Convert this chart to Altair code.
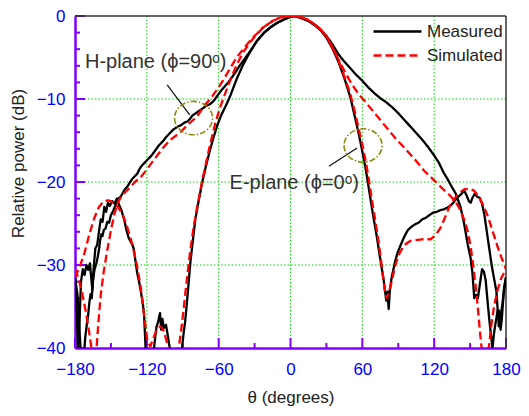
import altair as alt
import pandas as pd

# ---------------- data ----------------
x_major = [-180, -120, -60, 0, 60, 120, 180]
x_minor = [-150, -90, -30, 30, 90, 150]
y_major = [0, -10, -20, -30, -40]
y_minor = [-2, -4, -6, -8, -12, -14, -16, -18, -22, -24, -26, -28, -32, -34, -36, -38]
x_grid = [-120, -60, 0, 60, 120]
y_grid = [-10, -20, -30]

e_sim_theta = [-180, -176, -172, -168, -164, -160, -156, -152, -148, -144, -140, -136, -132, -128, -125, -122,
               -119.5, -117, -114, -111, -108.5, -106, -103, -100, -97.5, -95, -93, -91, -89, -87, -85, -83,
               -81, -78, -75, -71, -67, -63, -59, -55, -50, -45, -40, -35, -30, -23, -15, -8, 0, 5, 10, 15, 20,
               25, 30, 35, 40, 45, 50, 54, 57, 60, 63, 66, 68, 71, 74, 77, 79, 80.5, 82, 84, 86, 88, 91, 95,
               100, 110, 117, 121, 125, 129, 133, 137, 141, 145, 149, 153, 157, 161, 165, 169, 173, 177, 180]
e_sim_db = [-31.5, -30.2, -28.5, -26.3, -24.4, -23.0, -22.3, -22.2, -22.5, -23.0, -24.0, -25.6, -27.6, -30.2,
            -32.8, -36.4, -39.2, -39.8, -38.6, -37.6, -37.4, -37.9, -39.4, -41.0, -41.7, -41.0, -39.6, -37.5,
            -35.0, -32.3, -29.8, -27.5, -25.5, -23.0, -20.8, -18.0, -15.4, -13.0, -11.1, -9.5, -7.6, -5.9,
            -4.5, -3.4, -2.5, -1.4, -0.6, -0.15, 0.0, -0.05, -0.2, -0.5, -1.0, -1.6, -2.5, -3.7, -5.3, -7.3,
            -9.4, -11.7, -13.6, -15.5, -17.6, -20.2, -22.2, -24.8, -27.6, -31.0, -33.4, -34.0, -33.4, -32.3,
            -31.0, -29.8, -28.6, -27.6, -27.1, -26.9, -26.9, -26.4, -25.6, -24.3, -22.9, -22.0, -21.3, -20.9,
            -20.8, -21.0, -21.7, -22.8, -24.2, -26.0, -27.8, -29.4, -30.5]

h_sim_theta = [-180, -177, -174, -171, -168.5, -166, -164, -162, -160.5, -158.5, -156, -153.5, -150, -147,
               -144, -140, -135, -130, -125, -120, -114, -106, -100, -92, -85, -78, -72, -67, -62, -56, -50,
               -45, -40, -35, -30, -23, -15, -8, 0, 5, 10, 15, 20, 25, 30, 35, 40, 46, 52, 58, 64, 72, 80, 88,
               96, 104, 112, 120, 127, 133, 138, 142, 145, 148, 150.5, 153, 155, 157, 159, 161, 163.5, 166,
               168, 170, 173, 176, 180]
h_sim_db = [-30.5, -31.6, -33.4, -35.6, -37.8, -40.2, -41.5, -40.0, -37.0, -33.6, -30.8, -28.6, -25.8, -23.8,
            -22.4, -21.5, -20.8, -20.0, -19.4, -18.5, -17.3, -15.8, -14.9, -14.0, -13.0, -12.1, -10.8, -10.0,
            -9.0, -7.7, -6.2, -5.0, -4.1, -3.2, -2.4, -1.4, -0.6, -0.15, 0.0, -0.05, -0.2, -0.5, -1.0, -1.6,
            -2.4, -3.8, -5.2, -6.9, -8.4, -9.6, -10.6, -12.0, -13.4, -14.8, -16.0, -17.3, -18.7, -19.8, -20.8,
            -21.6, -22.4, -23.4, -24.5, -25.9, -27.8, -30.5, -33.0, -36.0, -39.2, -41.5, -42.0, -39.5, -37.0,
            -35.0, -33.0, -31.6, -30.5]

e_meas_theta = [-180, -179, -178, -177.5, -176, -175, -173.5, -172, -170.5, -169, -167.5, -166.5, -165.5,
                -164.5, -163, -161.5, -160, -158.5, -157, -155.5, -154, -152.5, -151, -149, -147, -145, -143,
                -141, -139, -137, -135, -133, -131, -129.5, -128, -126.5, -125, -123.5, -122.3, -121.5, -120.5,
                -117, -114, -112, -110.5, -109, -108, -107, -105.8, -104, -102.5, -100.3, -98, -94, -91, -89.5,
                -88, -86.5, -85, -83.5, -81.5, -79.5, -77, -74, -70.5, -67, -64, -61, -58, -56, -53, -50, -45,
                -40, -36, -32, -28, -22, -17, -12, -6, 0, 3, 6, 10, 15, 20, 25, 30, 35, 40, 45, 50, 54, 57, 60,
                63, 66, 69, 72, 75, 78, 80, 81, 82, 83, 84.5, 86, 87.5, 89.5, 92, 95, 98, 101, 104, 107, 110,
                113, 116, 119, 122, 125, 128, 131, 134, 137, 140, 143, 145, 147, 149, 150.5, 152, 154, 156, 158,
                160, 162, 164, 166, 168, 170, 172, 173, 174, 175.5, 177, 178.5, 180]
e_meas_db = [-31.5, -33.5, -38.0, -41.0, -36.0, -32.0, -30.5, -31.2, -30.0, -30.6, -29.8, -31.5, -33.0, -30.5,
             -28.0, -27.6, -26.0, -24.5, -24.8, -23.0, -23.6, -22.5, -22.9, -22.3, -22.6, -22.0, -22.8, -23.5,
             -24.5, -25.8, -26.8, -27.3, -28.0, -29.5, -31.0, -32.0, -33.2, -34.5, -36.0, -38.5, -42.0, -44.0,
             -40.0, -37.5, -36.8, -35.8, -37.8, -36.5, -37.6, -37.2, -38.5, -40.5, -44.0, -44.0, -40.5, -38.5,
             -36.8, -34.5, -32.0, -29.5, -27.0, -24.5, -22.5, -20.2, -18.0, -16.0, -14.5, -13.1, -12.0, -11.4,
             -10.5, -9.5, -7.6, -6.0, -4.9, -3.9, -3.0, -2.0, -1.4, -0.9, -0.45, -0.1, 0.0, -0.1, -0.3, -0.6,
             -1.1, -1.7, -2.6, -3.9, -5.5, -7.5, -9.8, -12.3, -14.2, -16.3, -18.6, -21.3, -24.0, -26.5, -29.3,
             -32.0, -34.3, -33.2, -35.3, -33.0, -31.5, -30.5, -29.5, -28.5, -27.6, -26.6, -25.8, -25.4, -25.1,
             -24.9, -24.5, -24.3, -24.0, -23.7, -23.6, -23.4, -23.3, -23.1, -22.8, -22.3, -21.8, -21.4, -21.0,
             -21.6, -22.3, -22.5, -21.9, -21.4, -21.8, -21.9, -22.6, -24.0, -26.0, -28.0, -30.0, -31.6, -33.2,
             -35.3, -37.4, -36.0, -34.8, -32.6, -31.5]

h_meas_theta = [-180, -179, -178, -177, -176, -175, -174, -172.5, -171.5, -170, -169, -168, -167, -166, -165,
                -164, -163, -162, -161, -160, -159, -158, -157, -156, -154.5, -153, -151.5, -150, -148.5, -147,
                -145.5, -144, -142, -140, -138.5, -136, -134, -132, -130, -128, -126, -124, -122, -120, -118,
                -116, -114, -112, -110, -108, -106, -104, -102, -100, -98, -96, -94, -92, -90, -88, -86, -84,
                -82, -80, -78, -76, -74, -72, -70, -67, -64, -61, -58, -55, -52, -49, -46, -43, -40, -36, -32,
                -28, -22, -17, -12, -6, 0, 3, 6, 10, 15, 20, 25, 30, 35, 40, 45, 50, 55, 60, 65, 70, 75, 80,
                85, 90, 95, 100, 105, 110, 115, 120, 124, 128, 131, 134, 138, 142, 145, 148, 150.5, 152, 153.5,
                155, 156.5, 158, 160, 161.5, 163, 164.5, 166, 167.5, 168.7, 170, 171.5, 173, 174.2, 175.5,
                176.5, 178, 179, 180]
h_meas_db = [-31.5, -32.5, -33.5, -35.5, -38.5, -41.0, -44.0, -41.0, -38.8, -37.0, -36.0, -34.5, -33.5, -34.0,
             -32.0, -30.8, -30.2, -29.7, -29.0, -28.2, -27.0, -26.3, -26.5, -25.8, -25.6, -24.8, -24.9, -24.0,
             -23.6, -23.1, -22.6, -22.0, -21.8, -21.3, -20.9, -20.5, -20.0, -19.6, -19.3, -19.0, -18.4, -18.0,
             -17.7, -17.4, -17.1, -16.8, -16.4, -16.0, -15.6, -15.3, -15.0, -14.6, -14.3, -14.0, -13.7, -13.5,
             -13.3, -13.2, -13.0, -12.8, -12.7, -12.4, -12.0, -11.8, -11.6, -11.4, -11.2, -11.0, -10.8, -10.6,
             -10.2, -9.6, -9.0, -8.5, -8.0, -7.4, -6.8, -6.1, -5.5, -4.7, -3.9, -3.0, -2.0, -1.4, -0.9, -0.45,
             -0.1, 0.0, -0.1, -0.3, -0.6, -1.0, -1.6, -2.4, -3.4, -4.6, -5.5, -6.3, -7.1, -7.8, -8.6, -9.3,
             -9.9, -10.4, -11.0, -11.7, -12.5, -13.3, -14.1, -14.9, -15.8, -16.8, -17.7, -18.9, -19.6, -20.4,
             -21.4, -23.0, -25.0, -27.5, -29.2, -31.0, -34.0, -33.6, -34.0, -32.5, -30.5, -30.8, -31.8, -34.2,
             -36.5, -38.5, -40.0, -38.2, -36.8, -35.5, -35.5, -37.8, -36.5, -33.5, -32.5, -31.5]

series_names = ["Measured", "Simulated"]
series_colors = ["#000000", "#ff0000"]

ann_text = ["H-plane (\u03d5=90\u1d52)", "E-plane (\u03d5=0\u1d52)"]
ann_theta = [-171.7, -50.9]
ann_db = [-5.5, -20.1]

circle_theta = [-81.0, 60.6]
circle_db = [-12.3, -15.6]

leader_theta1 = [-103.0, 32.1]
leader_db1 = [-8.3, -18.1]
leader_theta2 = [-84.2, 55.6]
leader_db2 = [-11.9, -15.9]

# ---------------- build tables ----------------
rows = []
for s, p, th, db in [("Measured", "E", e_meas_theta, e_meas_db),
                     ("Measured", "H", h_meas_theta, h_meas_db),
                     ("Simulated", "E", e_sim_theta, e_sim_db),
                     ("Simulated", "H", h_sim_theta, h_sim_db)]:
    for t, d in zip(th, db):
        rows.append({"theta": t, "db": d, "series": s, "plane": p})
curves = pd.DataFrame(rows)

W, H = 431, 332
FONT = "Liberation Sans, Arial, sans-serif"
PURPLE = "#8000ff"

xs = alt.Scale(domain=[-180, 180], nice=False, zero=False)
ys = alt.Scale(domain=[-40, 0], nice=False, zero=False)

x_axis = alt.Axis(values=x_major, title="\u03b8 (degrees)", labelFontSize=17, labelColor="#0000ff",
                  labelFont=FONT, labelPadding=13, ticks=False, tickSize=0, domainColor=PURPLE,
                  domainWidth=2.5, grid=False, titleFont=FONT, titleFontSize=17, titleFontWeight="normal",
                  titleColor="#222222", titlePadding=12, labelFlush=False)
y_axis = alt.Axis(values=y_major, title="Relative power (dB)", labelFontSize=17, labelColor="#0000ff",
                  labelFont=FONT, labelPadding=10, ticks=False, tickSize=0, domainColor=PURPLE,
                  domainWidth=2.5, grid=False, titleFont=FONT, titleFontSize=17, titleFontWeight="normal",
                  titleColor="#222222", titlePadding=9, titleY=147, labelFlush=False)

X = lambda f: alt.X(f, scale=xs, axis=x_axis)
Y = lambda f: alt.Y(f, scale=ys, axis=y_axis)

# grid
gx = alt.Chart(pd.DataFrame({"theta": x_grid})).mark_rule(
    color="#00dd00", strokeWidth=1, strokeDash=[1.5, 2]).encode(x=X("theta:Q"))
gy = alt.Chart(pd.DataFrame({"db": y_grid})).mark_rule(
    color="#00dd00", strokeWidth=1, strokeDash=[1.5, 2]).encode(y=Y("db:Q"))

# frame top / right
top_border = alt.Chart(pd.DataFrame({"db": [0]})).mark_rule(color="#333333", strokeWidth=1.5).encode(
    y=Y("db:Q"))
right_border = alt.Chart(pd.DataFrame({"theta": [180]})).mark_rule(color="#333333", strokeWidth=1.5).encode(
    x=X("theta:Q"))

# inward ticks
tx_major = alt.Chart(pd.DataFrame({"theta": x_major})).mark_rule(color=PURPLE, strokeWidth=2).encode(
    x=X("theta:Q"), y=alt.value(H), y2=alt.value(H - 10))
tx_minor = alt.Chart(pd.DataFrame({"theta": x_minor})).mark_rule(color=PURPLE, strokeWidth=2).encode(
    x=X("theta:Q"), y=alt.value(H), y2=alt.value(H - 5))
ty_major = alt.Chart(pd.DataFrame({"db": y_major})).mark_rule(color=PURPLE, strokeWidth=2).encode(
    y=Y("db:Q"), x=alt.value(0), x2=alt.value(10))
ty_minor = alt.Chart(pd.DataFrame({"db": y_minor})).mark_rule(color=PURPLE, strokeWidth=2).encode(
    y=Y("db:Q"), x=alt.value(0), x2=alt.value(5))

lines = alt.Chart(curves).mark_line(clip=True, strokeWidth=2.3, strokeJoin="round").encode(
    x=X("theta:Q"),
    y=Y("db:Q"),
    color=alt.Color("series:N", scale=alt.Scale(domain=series_names, range=series_colors), title=None),
    strokeDash=alt.StrokeDash("series:N", scale=alt.Scale(domain=series_names, range=[[1, 0], [8, 4]]),
                              title=None),
    detail="plane:N",
)

ann = alt.Chart(pd.DataFrame({"theta": ann_theta, "db": ann_db, "label": ann_text})).mark_text(
    align="left", baseline="middle", fontSize=20, font=FONT, color="#333333").encode(
    x=X("theta:Q"), y=Y("db:Q"), text="label:N")

ellipses = alt.Chart(pd.DataFrame({"theta": circle_theta, "db": circle_db})).mark_point(
    shape="M -1 0 A 1 0.88 0 1 0 1 0 A 1 0.88 0 1 0 -1 0 Z", size=1444, filled=False,
    color="#8a8a10", strokeWidth=1.6, strokeDash=[6, 2, 1.5, 2], opacity=1).encode(
    x=X("theta:Q"), y=Y("db:Q"))

leaders = alt.Chart(pd.DataFrame({"theta": leader_theta1, "db": leader_db1,
                                  "theta2": leader_theta2, "db2": leader_db2})).mark_rule(
    color="#111111", strokeWidth=1.2).encode(
    x=X("theta:Q"), y=Y("db:Q"), x2="theta2:Q", y2="db2:Q")

chart = alt.layer(
    gx, gy, tx_major, tx_minor, ty_major, ty_minor, top_border, right_border,
    lines, leaders, ellipses, ann
).properties(
    width=W, height=H,
    padding={"left": 67, "top": 8, "right": 15, "bottom": 60},
    autosize=alt.AutoSizeParams(type="none"),
).configure_view(stroke=None).configure_legend(
    orient="none", legendX=313, legendY=6, symbolType="M -3 0 H 3", symbolSize=256,
    symbolStrokeWidth=2.5, labelFontSize=17, labelFont=FONT, labelColor="#222222",
    labelOffset=20, rowPadding=6, padding=0, titleFontSize=0,
)

chart.save("out.html", embed_options={"renderer": "svg", "actions": False})
